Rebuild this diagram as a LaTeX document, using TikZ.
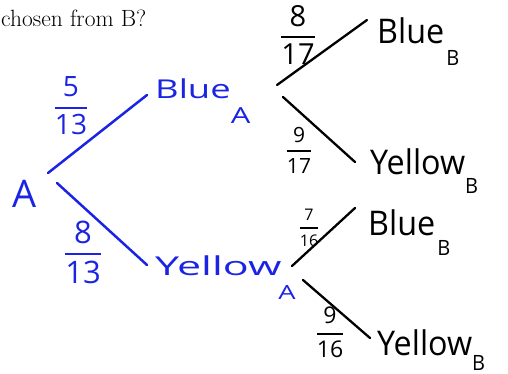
\documentclass[tikz,border=0pt]{standalone}
\usepackage{fontspec}
\usepackage{amsmath}
\setsansfont{Open Sans}
\newfontfamily\bluehand[FakeStretch=1.4]{Open Sans}
\newfontfamily\blackhand[FakeStretch=0.95]{Open Sans}
\usetikzlibrary{positioning}
\definecolor{penblue}{RGB}{28,36,228}
\newcommand{\hsub}[3]{\raisebox{#2}{\scalebox{#1}{#3}}}
\newcommand{\hfrac}[2]{\ensuremath{\genfrac{}{}{2pt}{0}{\mbox{#1}}{\mbox{#2}}}}

\begin{document}
\begin{tikzpicture}[x=1pt,y=-1pt,line cap=round,line join=round]
\tikzset{
  bluelbl/.style={anchor=base west,inner sep=0pt,text=penblue,font=\bluehand\fontsize{26}{30}\selectfont},
  blacklbl/.style={anchor=base west,inner sep=0pt,font=\blackhand\fontsize{34}{38}\selectfont},
  prob/.style={inner sep=0pt,font=\sffamily},
  bluebranch/.style={draw=penblue,line width=2.5pt},
  blackbranch/.style={draw=black,line width=2.3pt}
}
\useasboundingbox (0,0) rectangle (508,374);
\node[anchor=base west,inner sep=0pt,font=\rmfamily\fontsize{23.5}{28}\selectfont] (ask) at (1,27) {chosen from B?};
% stage A
\node[prob,anchor=base,text=penblue,font=\sffamily\fontsize{38}{40}\selectfont] (A) at (25,207) {A};
\node[bluelbl] (blueA) at (155,99) {Blue\hsub{.85}{-.95em}{A}};
\node[bluelbl] (yellowA) at (155,275) {\scalebox{1.18}[1]{Yellow}\kern-3pt\hsub{.75}{-.95em}{A}};
\node[prob,text=penblue,font=\sffamily\fontsize{28}{30}\selectfont] (pba) at (71,106) {\hfrac{5}{13}};
\node[prob,text=penblue,font=\sffamily\fontsize{31}{33}\selectfont] (pya) at (83,252) {\hfrac{8}{13}};
\draw[bluebranch] ([shift={(23,-34)}]A.base) -- ([shift={(-8,-4)}]blueA.base west);
\draw[bluebranch] ([shift={(32,-24)}]A.base) -- ([shift={(-8,-10)}]yellowA.base west);
% stage B
\node[blacklbl] (blueB) at (377,44) {Blue\kern2pt\hsub{.62}{-.62em}{B}};
\node[blacklbl] (yellowB) at (370,175) {Yellow\hsub{.62}{-.53em}{B}};
\node[blacklbl] (blueBB) at (368,235) {Blue\kern2pt\hsub{.62}{-.59em}{B}};
\node[blacklbl] (yellowBB) at (377,355) {Yellow\hsub{.62}{-.45em}{B}};
\node[prob,font=\sffamily\fontsize{29}{31}\selectfont] (pbb) at (298,35) {\hfrac{8}{17}};
\node[prob,font=\sffamily\fontsize{21}{23}\selectfont] (pyb) at (299,150) {\hfrac{9}{17}};
\node[prob,font=\sffamily\fontsize{16}{18}\selectfont] (pbbb) at (309,228) {\hfrac{7}{16}};
\node[prob,font=\sffamily\fontsize{23}{25}\selectfont] (pybb) at (330,332) {\hfrac{9}{16}};
\draw[blackbranch] ([shift={(122,-14)}]blueA.base west) -- ([shift={(-10,-24)}]blueB.base west);
\draw[blackbranch] ([shift={(128,-2)}]blueA.base west) -- ([shift={(-15,-13)}]yellowB.base west);
\draw[blackbranch] ([shift={(137,-9)}]yellowA.base west) -- ([shift={(-13,-27)}]blueBB.base west);
\draw[blackbranch] ([shift={(148,5)}]yellowA.base west) -- ([shift={(-7,-17)}]yellowBB.base west);
\end{tikzpicture}
\end{document}
